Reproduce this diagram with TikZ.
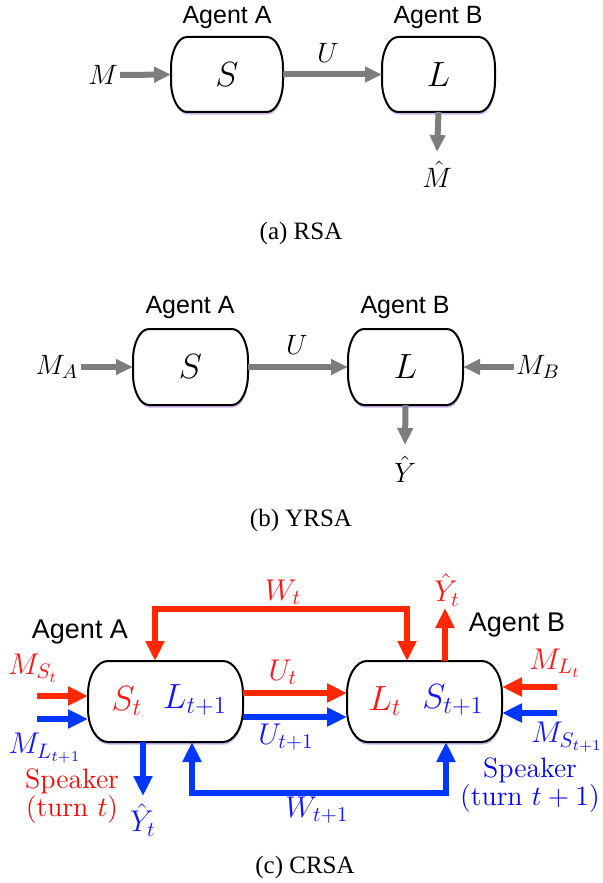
\RequirePackage{fix-cm}
\documentclass[tikz,border=0pt]{standalone}
\usepackage{fontspec}
\newfontfamily\agentfont{Liberation Sans}
\newfontfamily\capfont{Liberation Serif}
\usetikzlibrary{arrows.meta,calc,backgrounds}
\definecolor{arrred}{RGB}{255,40,0}
\definecolor{arrblue}{RGB}{0,55,255}
\definecolor{tred}{RGB}{255,20,20}
\definecolor{tblue}{RGB}{20,20,255}
\definecolor{arrgray}{RGB}{125,125,125}
\definecolor{shadowc}{RGB}{140,90,210}
\newcommand\barrelpath[3]{%
($(#1.north west)+(#2,0)$) -- ($(#1.north east)+(-#2,0)$)
.. controls ($(#1.north east)+(-0.448*#2,0)$) and ($(#1.north east)+(0,0.448*#3)$) .. ($(#1.north east)+(0,#3)$)
-- ($(#1.south east)+(0,-#3)$)
.. controls ($(#1.south east)+(0,-0.448*#3)$) and ($(#1.south east)+(-0.448*#2,0)$) .. ($(#1.south east)+(-#2,0)$)
-- ($(#1.south west)+(#2,0)$)
.. controls ($(#1.south west)+(0.448*#2,0)$) and ($(#1.south west)+(0,-0.448*#3)$) .. ($(#1.south west)+(0,-#3)$)
-- ($(#1.north west)+(0,#3)$)
.. controls ($(#1.north west)+(0,0.448*#3)$) and ($(#1.north west)+(0.448*#2,0)$) .. cycle}
\newcommand\drawbarrel[3]{%
\fill[shadowc, opacity=0.45, transform canvas={shift={(0.3pt,-1.3pt)}}] \barrelpath{#1}{#2}{#3};
\draw[line width=1pt, fill=white] \barrelpath{#1}{#2}{#3};}
\tikzset{
  agent/.style={font=\agentfont\fontsize{12.5}{14}\selectfont, inner sep=0pt},
  agentc/.style={font=\agentfont\fontsize{13.5}{15}\selectfont, inner sep=0pt},
  lab/.style={font=\fontsize{14}{16}\selectfont, inner sep=1pt},
  labc/.style={font=\fontsize{15}{17}\selectfont, inner sep=1pt},
  boxtxt/.style={font=\fontsize{17.5}{19}\selectfont},
  agentbox/.style={draw=none, inner sep=0pt, outer sep=0pt},
  capt/.style={font=\capfont\fontsize{12.5}{14}\selectfont},
  spk/.style={font=\fontsize{14}{14}\selectfont, align=center, inner sep=0pt},
  grayarr/.style={draw=arrgray, line width=3pt, -{Triangle[length=8.5pt,width=7.5pt]}},
  redline/.style={draw=arrred, line width=3.3pt, line join=miter, >={Triangle[length=10pt,width=9pt]}},
  blueline/.style={draw=arrblue, line width=3.3pt, line join=miter, >={Triangle[length=10pt,width=9pt]}},
}
\begin{document}
\begin{tikzpicture}[x=0.5pt, y=-0.5pt]
\useasboundingbox (0,0) rectangle (603,883);
% ---------------- (a) RSA
\node[agent] (agA1) at (227,17) {Agent A};
\node[agent] (agB1) at (438,17) {Agent B};
\node[agentbox, boxtxt, minimum width=56pt, minimum height=37.5pt] (aS) at (227,74.5) {$S$};
\node[agentbox, boxtxt, minimum width=56.5pt, minimum height=37.5pt] (aL) at (438.5,74.5) {$L$};
\begin{scope}[on background layer]
\drawbarrel{aS}{16}{31}
\drawbarrel{aL}{16}{31}
\end{scope}
\node[lab] (aM) at (103,75) {$M$};
\node[lab] (aU) at (328,53) {$U$};
\node[lab] (aMh) at (437,174) {$\hat{M}$};
\coordinate (aMend) at (437,152);
\draw[grayarr] (aM.east) -- (aS.west);
\draw[grayarr] (aS.east) -- (aL.west);
\draw[grayarr] (aL.south) -- (aMend);
\node[capt] (capa) at (301,233) {(a) RSA};
% ---------------- (b) YRSA
\node[agent] (agA2) at (190,307) {Agent A};
\node[agent] (agB2) at (405,307) {Agent B};
\node[agentbox, boxtxt, minimum width=57.5pt, minimum height=38pt] (bS) at (190.5,367) {$S$};
\node[agentbox, boxtxt, minimum width=57.5pt, minimum height=38pt] (bL) at (405.5,367) {$L$};
\begin{scope}[on background layer]
\drawbarrel{bS}{16}{31}
\drawbarrel{bL}{16}{31}
\end{scope}
\node[lab] (bMA) at (57,367) {$M_A$};
\node[lab] (bMB) at (538,367) {$M_B$};
\node[lab] (bU) at (297,345) {$U$};
\node[lab] (bY) at (405,469) {$\hat{Y}$};
\coordinate (bYend) at (405,445);
\draw[grayarr] (bMA.east) -- (bS.west);
\draw[grayarr] (bS.east) -- (bL.west);
\draw[grayarr] (bMB.west) -- (bL.east);
\draw[grayarr] (bL.south) -- (bYend);
\node[capt] (capb) at (301,520) {(b) YRSA};
% ---------------- (c) CRSA
\node[agentc] (agA3) at (80,632) {Agent A};
\node[agentc] (agB3) at (517,625) {Agent B};
\node[agentbox, minimum width=77.5pt, minimum height=40.5pt] (cA) at (165.5,701.5) {};
\node[agentbox, minimum width=77.5pt, minimum height=40.5pt] (cB) at (424.5,701.5) {};
\begin{scope}[on background layer]
\drawbarrel{cA}{20}{33}
\drawbarrel{cB}{20}{33}
\end{scope}
\node[boxtxt, text=tred] (St) at (127,701) {$S_t$};
\node[boxtxt, text=tblue] (Lt1) at (195,700) {$L_{t+1}$};
\node[boxtxt, text=tred] (Lt) at (385,701) {$L_t$};
\node[boxtxt, text=tblue] (St1) at (453,700) {$S_{t+1}$};
\node[labc, text=tred] (MSt) at (33,668) {$M_{S_t}$};
\node[labc, text=tblue] (MLt1) at (45,748) {$M_{L_{t+1}}$};
\node[labc, text=tred] (Ut) at (283,672) {$U_t$};
\node[labc, text=tblue] (Ut1) at (286,737) {$U_{t+1}$};
\node[labc, text=tred] (Wt) at (283,592) {$W_t$};
\node[labc, text=tred] (YtR) at (447,590) {$\hat{Y}_t$};
\node[labc, text=tred] (MLt) at (555,663) {$M_{L_t}$};
\node[labc, text=tblue] (MSt1) at (567,737) {$M_{S_{t+1}}$};
\node[labc, text=tblue] (YtB) at (143,820) {$\hat{Y}_t$};
\node[labc, text=tblue] (Wt1) at (317,810) {$W_{t+1}$};
\node[spk, text=red] (spA) at (72,796) {Speaker\\(turn $t$)};
\node[spk, text=blue] (spB) at (530,785) {Speaker\\(turn $t+1$)};
\coordinate (inAr) at (37,696);
\coordinate (inAb) at (37,719);
\coordinate (inBr) at (557,687);
\coordinate (inBb) at (557,713);
\coordinate (uR) at (0,693);
\coordinate (uB) at (0,717);
\coordinate (wL) at (155,609);
\coordinate (wR) at (407,609);
\coordinate (yRend) at (445,608);
\coordinate (yBend) at (143,796);
\coordinate (wbL) at (192,793);
\coordinate (wbR) at (446,793);
\draw[redline, ->] (inAr) -- (inAr -| cA.west);
\draw[blueline, ->] (inAb) -- (inAb -| cA.west);
\draw[redline, ->] (inBr) -- (inBr -| cB.east);
\draw[blueline, ->] (inBb) -- (inBb -| cB.east);
\draw[redline, ->] (cA.east |- uR) -- (cB.west |- uR);
\draw[blueline, ->] (cA.east |- uB) -- (cB.west |- uB);
\draw[redline, <->] (cA.north -| wL) -- (wL) -- (wR) -- (cB.north -| wR);
\draw[redline, ->] (cB.north -| yRend) -- (yRend);
\draw[blueline, ->] (cA.south -| yBend) -- (yBend);
\draw[blueline, <->] (cA.south -| wbL) -- (wbL) -- (wbR) -- (cB.south -| wbR);
\node[capt] (capc) at (305,867) {(c) CRSA};
\end{tikzpicture}
\end{document}
